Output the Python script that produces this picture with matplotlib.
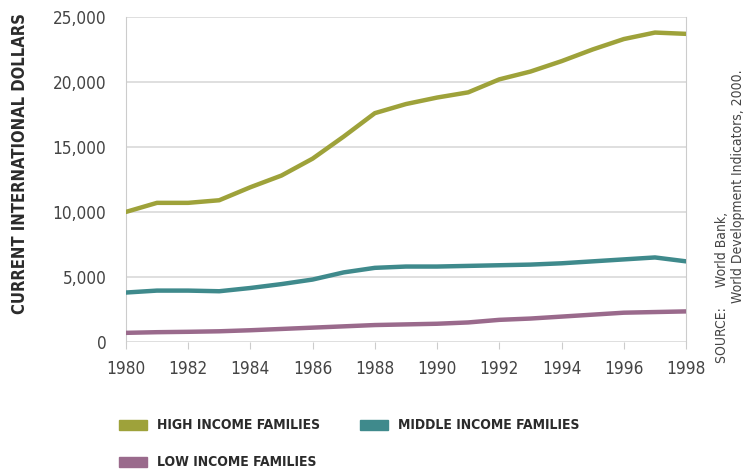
import matplotlib.pyplot as plt
import matplotlib.patches as mpatches

years = list(range(1980, 1999))

high_income = [10000, 10700, 10700, 10900, 11900, 12800, 14100, 15800, 17600, 18300,
               18800, 19200, 20200, 20800, 21600, 22500, 23300, 23800, 23700]
middle_income = [3800, 3950, 3950, 3900, 4150, 4450, 4800, 5350, 5700, 5800,
                 5800, 5850, 5900, 5950, 6050, 6200, 6350, 6500, 6200]
low_income = [700, 750, 780, 820, 900, 1000, 1100, 1200, 1300, 1350,
              1400, 1500, 1700, 1800, 1950, 2100, 2250, 2300, 2350]

series_labels = ["HIGH INCOME FAMILIES", "MIDDLE INCOME FAMILIES", "LOW INCOME FAMILIES"]
colors = ["#9ea23a", "#3f8a8c", "#9a6a8c"]

y_ticks = [0, 5000, 10000, 15000, 20000, 25000]
x_ticks = list(range(1980, 1999, 2))


def main():
    fig = plt.figure(figsize=(7.49, 4.71), dpi=100)
    ax = fig.add_axes([0.168, 0.274, 0.748, 0.690])

    for vals, col in zip([high_income, middle_income, low_income], colors):
        ax.plot(years, vals, color=col, linewidth=3.2, solid_capstyle="round", zorder=3)

    tick_font = dict(family="DejaVu Sans", stretch="condensed", fontsize=12.3, color="#444444")
    ax.set_xlim(1980, 1998)
    ax.set_ylim(0, 25000)
    ax.set_yticks(y_ticks)
    ax.set_yticklabels([f"{v:,}" for v in y_ticks], **tick_font)
    ax.set_xticks(x_ticks)
    ax.set_xticklabels([str(y) for y in x_ticks], **tick_font)
    ax.grid(axis="y", color="#d9d9d9", linewidth=1.2, zorder=0)
    ax.tick_params(axis="y", length=0, pad=14)
    ax.tick_params(axis="x", length=5, color="#cccccc", pad=8)

    for s in ["top", "bottom"]:
        ax.spines[s].set_visible(False)
    ax.spines["left"].set_color("#cccccc")
    ax.spines["right"].set_color("#cccccc")

    bold_font = dict(family="DejaVu Sans", stretch="condensed", fontweight="bold", color="#2b2b2b")
    fig.text(20 / 749, 1 - 164 / 471, "CURRENT INTERNATIONAL DOLLARS", rotation=90,
             ha="center", va="center", fontsize=11.9, **bold_font)

    src_font = dict(family="DejaVu Sans", stretch="condensed", fontsize=10, color="#444444")
    fig.text(722 / 749, 1 - 363 / 471, "SOURCE:     World Bank,", rotation=90, ha="center",
             va="bottom", **src_font)
    fig.text(738 / 749, 1 - 303 / 471, "World Development Indicators, 2000.", rotation=90,
             ha="center", va="bottom", **src_font)

    # legend drawn by hand
    spots = [(119, 425), (360, 425), (119, 462)]
    for (px, py), lbl, col in zip(spots, series_labels, colors):
        fig.patches.append(mpatches.Rectangle((px / 749, 1 - (py + 5) / 471), 28 / 749, 10 / 471,
                                              transform=fig.transFigure, color=col))
        fig.text((px + 38) / 749, 1 - py / 471, lbl, ha="left", va="center",
                 fontsize=10, **bold_font)

    fig.savefig("out.png", dpi=100)


if __name__ == "__main__":
    main()
